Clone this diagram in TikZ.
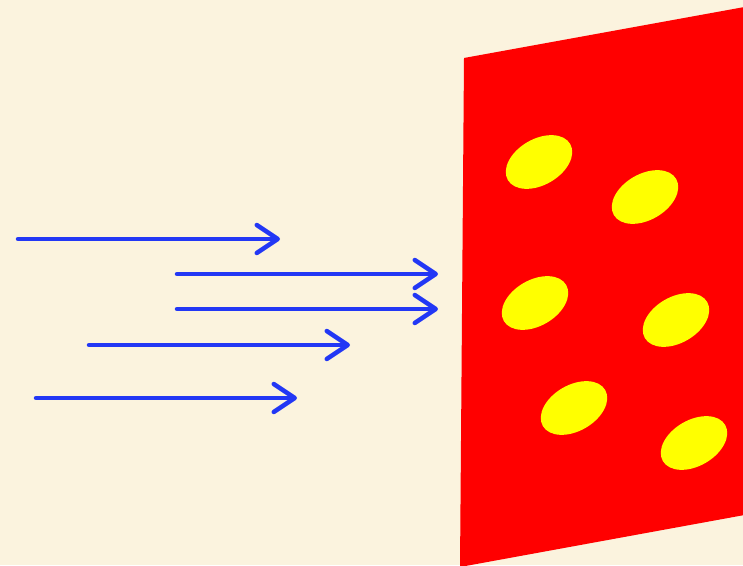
\documentclass[tikz,border=0pt]{standalone}
\usepackage{xcolor}
\usepackage{tikz}
\usetikzlibrary{arrows.meta}
\definecolor{paperbg}{HTML}{FBF3DE}
\definecolor{beamblue}{HTML}{2237F5}
\definecolor{plated}{HTML}{FF0000}
\definecolor{spotyellow}{HTML}{FFFF00}

\begin{document}
\begin{tikzpicture}[x=1pt,y=1pt,
    beam/.style={-{Straight Barb[length=21pt,width=28pt,round]},line width=4.5pt,beamblue,line cap=round},
    spot/.style={fill=spotyellow}]
  \fill[paperbg] (0,0) rectangle (743,565);
  \useasboundingbox (0,0) rectangle (743,565);
  \clip (0,0) rectangle (743,565);
  % plate
  \fill[plated] (464,507) -- (750,559) -- (750,51) -- (460,-2) -- cycle;
  % holes
  \fill[spot] (539,403) ellipse [x radius=36, y radius=23, rotate=30];
  \fill[spot] (645,368) ellipse [x radius=36, y radius=23, rotate=30];
  \fill[spot] (535,262) ellipse [x radius=36, y radius=23, rotate=30];
  \fill[spot] (676,245) ellipse [x radius=36, y radius=23, rotate=30];
  \fill[spot] (574,157) ellipse [x radius=36, y radius=23, rotate=30];
  \fill[spot] (694,122) ellipse [x radius=36, y radius=23, rotate=30];
  % incoming beams
  \coordinate (a1) at (18,326);  \coordinate (b1) at (280,326);
  \coordinate (a2) at (177,291); \coordinate (b2) at (438,291);
  \coordinate (a3) at (177,256); \coordinate (b3) at (438,256);
  \coordinate (a4) at (89,220);  \coordinate (b4) at (350,220);
  \coordinate (a5) at (36,167);  \coordinate (b5) at (297,167);
  \draw[beam] (a1) -- (b1);
  \draw[beam] (a2) -- (b2);
  \draw[beam] (a3) -- (b3);
  \draw[beam] (a4) -- (b4);
  \draw[beam] (a5) -- (b5);
\end{tikzpicture}
\end{document}
